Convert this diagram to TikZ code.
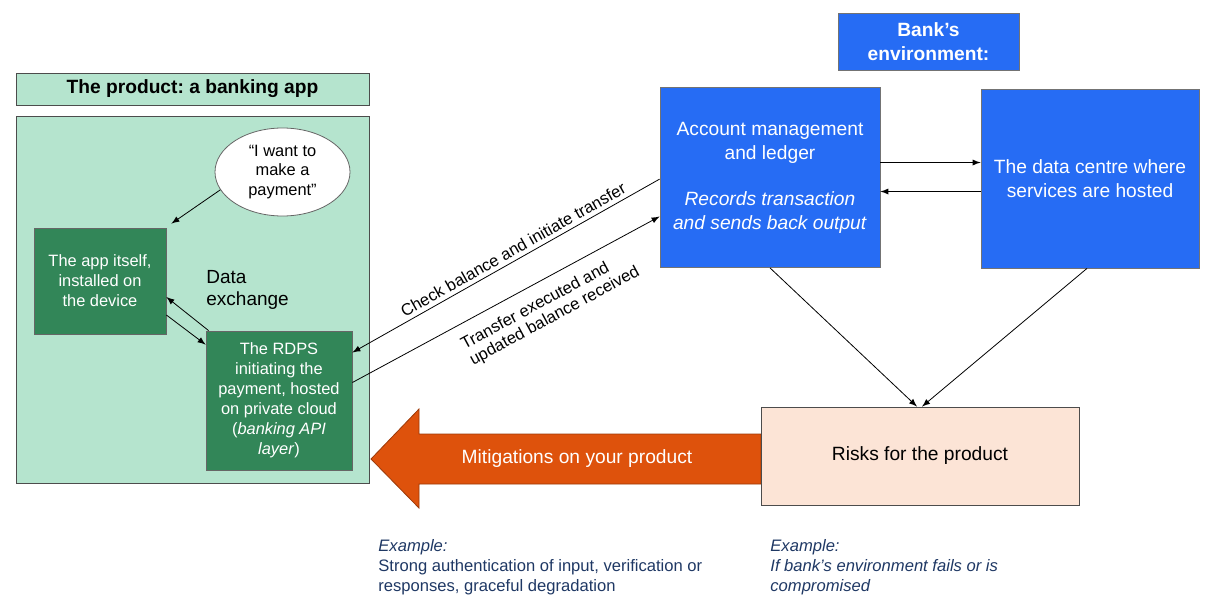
\documentclass[tikz,border=0pt]{standalone}
\usepackage{fontspec}
\setmainfont{Liberation Sans}
\usetikzlibrary{shapes.geometric}

\definecolor{palegreen}{RGB}{181,228,206}
\definecolor{deepgreen}{RGB}{50,134,88}
\definecolor{bankblue}{RGB}{38,108,244}
\definecolor{peach}{RGB}{252,228,214}
\definecolor{mitorange}{RGB}{222,82,12}
\definecolor{navy}{RGB}{31,56,100}

\tikzset{
    greenbox/.style={draw=black!60, fill=deepgreen, text=white, align=center,
        font=\fontsize{8.2}{10}\selectfont},
    bluebox/.style={draw=black!55, fill=bankblue, text=white, align=center,
        font=\fontsize{9.6}{12}\selectfont},
    label/.style={font=\fontsize{8.3}{9}\selectfont, sloped}
}

\begin{document}
\begin{tikzpicture}[x=0.5pt, y=-0.5pt, >=latex]
    \useasboundingbox (0,0) rectangle (1222,611);

    \draw[draw=mitorange!70!black, fill=mitorange]
        (371,459) -- (419,409) -- (419,434) -- (761,434) -- (761,484)
        -- (419,484) -- (419,508) -- cycle;

    \node[draw=black!70, fill=palegreen, minimum width=176.5pt, minimum height=16pt,
          font=\bfseries\fontsize{9.6}{11}\selectfont] (title) at (192.5,89) {The product:\ a banking app};
    \node[draw=black!70, fill=palegreen, minimum width=176.5pt, minimum height=183.5pt] (product) at (192.5,299.5) {};
    \node[draw=black!60, fill=white, ellipse, minimum width=67.5pt, minimum height=44pt,
          inner sep=0pt, align=center, font=\fontsize{8.2}{9.9}\selectfont] (bubble) at (282.5,172) {“I want to\\make a\\payment”};
    \node[greenbox, minimum width=66pt, minimum height=53pt] (app) at (100,281) {The app itself,\\installed on\\the device};
    \node[greenbox, minimum width=73pt, minimum height=69.5pt] (rdps) at (279,400.5)
        {The RDPS\\initiating the\\payment, hosted\\on private cloud\\(\textit{banking API}\\\textit{layer})};
    \node[anchor=west, align=left, inner sep=0pt, font=\fontsize{9.5}{11}\selectfont] (exch) at (206,290) {Data\\exchange};

    \node[bluebox, font=\bfseries\fontsize{9.6}{12}\selectfont, minimum width=90.5pt, minimum height=28.5pt] (bank) at (928.5,41.5) {Bank’s\\environment:};
    \node[bluebox, minimum width=110pt, minimum height=90pt] (acc) at (770,177.5)
        {Account management\\and ledger\\[11pt]\textit{Records transaction}\\\textit{and sends back output}};
    \node[bluebox, minimum width=109pt, minimum height=89.5pt] (dc) at (1090,178.5) {The data centre where\\services are hosted};

    \node[draw=black!70, fill=peach, minimum width=159pt, minimum height=49pt,
          font=\fontsize{9.6}{12}\selectfont] (risks) at (920,456) {Risks for the product};
    \node[text=white, font=\fontsize{9.6}{12}\selectfont] (mitig) at (577,459) {Mitigations on your product};

    \node[anchor=base west, align=left, inner sep=0pt, text=navy, font=\fontsize{8.3}{9.9}\selectfont] (exmit) at (378,591)
        {\textit{Example:}\\Strong authentication of input, verification or\\responses, graceful degradation};
    \node[anchor=base west, align=left, inner sep=0pt, text=navy, font=\itshape\fontsize{8.3}{9.9}\selectfont] (exrisk) at (770,591)
        {Example:\\If bank’s environment fails or is\\compromised};

    \draw [->] (bubble.196) -- ([shift={(5,-4)}]app.north east);
    \draw [->] ([xshift=1.5pt]rdps.north west) -- ([yshift=-8pt]app.east);
    \draw [->] ([yshift=-17pt]app.east) -- ([yshift=-7pt]rdps.north west);

    \draw [->] ([yshift=-0.8pt]acc.west) -- node[label, above, pos=0.46, inner sep=2pt]
        {Check balance and initiate transfer} ([yshift=24pt]rdps.east);
    \draw [->] ([yshift=9pt]rdps.east) -- node[label, below, pos=0.6, inner sep=6pt, align=left]
        {Transfer executed and\\updated balance received} ([yshift=-19.5pt]acc.west);

    \draw [->] ([yshift=7.5pt]acc.east) -- ([yshift=8pt]dc.west);
    \draw [->] ([yshift=-6.5pt]dc.west) -- ([yshift=-7pt]acc.east);

    \draw [->] (acc.south) -- ([xshift=-1.5pt]risks.north);
    \draw [->] ([xshift=-1.5pt]dc.south) -- ([xshift=1pt]risks.north);
\end{tikzpicture}
\end{document}
